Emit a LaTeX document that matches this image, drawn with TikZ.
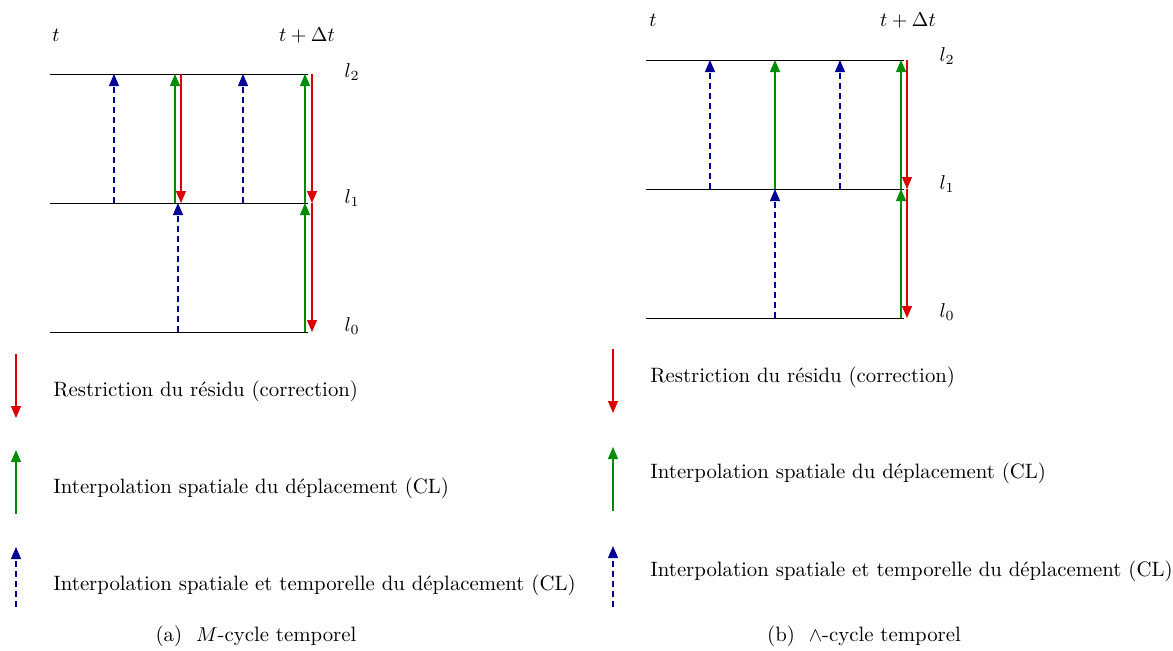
\documentclass[tikz,border=0pt]{standalone}
\usepackage{amsmath,amssymb}
\usetikzlibrary{arrows.meta}
\definecolor{resred}{RGB}{220,0,0}
\definecolor{intgreen}{RGB}{0,140,0}
\definecolor{tmpblue}{RGB}{0,0,150}

\begin{document}
\begin{tikzpicture}[x=0.5pt,y=-0.5pt,font=\fontsize{10.4}{12.5}\selectfont,
  level/.style={draw=black,line width=0.5pt},
  restr/.style={resred,line width=0.55pt,-{Triangle[length=6pt,width=5pt]}},
  spat/.style={intgreen,line width=0.55pt,-{Triangle[length=6pt,width=5pt]}},
  spatemp/.style={tmpblue,line width=0.55pt,dash pattern=on 3pt off 2pt,-{Triangle[length=6pt,width=5pt]}},
  lab/.style={anchor=west,inner sep=0pt}]
  \useasboundingbox (0,0) rectangle (1173,650);

  % (a) M-cycle temporel
  \coordinate (a2) at (50,74);  \coordinate (a2e) at (308,74);
  \coordinate (a1) at (50,203); \coordinate (a1e) at (308,203);
  \coordinate (a0) at (50,332); \coordinate (a0e) at (308,332);
  \draw[level] (a2) -- (a2e);
  \draw[level] (a1) -- (a1e);
  \draw[level] (a0) -- (a0e);
  \node (ta) at (56,35) {$t$};
  \node (tdta) at (307,35) {$t+\Delta t$};
  \node (la2) at (352,72) {$l_2$};
  \node (la1) at (352,198) {$l_1$};
  \node (la0) at (352,326) {$l_0$};
  \draw[spatemp] (114,0 |- a1) -- (114,0 |- a2);
  \draw[spatemp] (243,0 |- a1) -- (243,0 |- a2);
  \draw[spatemp] (178,0 |- a0) -- (178,0 |- a1);
  \draw[spat] (175,0 |- a1) -- (175,0 |- a2);
  \draw[restr] (181,0 |- a2) -- (181,0 |- a1);
  \draw[spat] (305,0 |- a0) -- (305,0 |- a1);
  \draw[spat] (305,0 |- a1) -- (305,0 |- a2);
  \draw[restr] (312,0 |- a2) -- (312,0 |- a1);
  \draw[restr] (312,0 |- a1) -- (312,0 |- a0);
  % legend (a)
  \node[lab] (resa) at (53,391) {Restriction du r\'esidu (correction)};
  \node[lab] (inta) at (53,488) {Interpolation spatiale du d\'eplacement (CL)};
  \node[lab] (tmpa) at (53,585) {Interpolation spatiale et temporelle du d\'eplacement (CL)};
  \draw[restr] (16,354) -- (16,418);
  \draw[spat] (16,514) -- (16,450);
  \draw[spatemp] (16,607) -- (16,547);
  \node (capa) at (256,636) {(a)\ \ $M$-cycle temporel};

  % (b) Lambda-cycle temporel
  \coordinate (b2) at (646,60);  \coordinate (b2e) at (904,60);
  \coordinate (b1) at (646,189); \coordinate (b1e) at (904,189);
  \coordinate (b0) at (646,318); \coordinate (b0e) at (904,318);
  \draw[level] (b2) -- (b2e);
  \draw[level] (b1) -- (b1e);
  \draw[level] (b0) -- (b0e);
  \node (tb) at (653,20) {$t$};
  \node (tdtb) at (908,20) {$t+\Delta t$};
  \node (lb2) at (947,56) {$l_2$};
  \node (lb1) at (947,184) {$l_1$};
  \node (lb0) at (947,312) {$l_0$};
  \draw[spatemp] (710,0 |- b1) -- (710,0 |- b2);
  \draw[spatemp] (840,0 |- b1) -- (840,0 |- b2);
  \draw[spat] (775,0 |- b1) -- (775,0 |- b2);
  \draw[spatemp] (775,0 |- b0) -- (775,0 |- b1);
  \draw[spat] (901,0 |- b0) -- (901,0 |- b1);
  \draw[spat] (901,0 |- b1) -- (901,0 |- b2);
  \draw[restr] (907,0 |- b2) -- (907,0 |- b1);
  \draw[restr] (907,0 |- b1) -- (907,0 |- b0);
  % legend (b)
  \node[lab] (resb) at (650,377) {Restriction du r\'esidu (correction)};
  \node[lab] (intb) at (650,473) {Interpolation spatiale du d\'eplacement (CL)};
  \node[lab] (tmpb) at (650,571) {Interpolation spatiale et temporelle du d\'eplacement (CL)};
  \draw[restr] (613,349) -- (613,413);
  \draw[spat] (613,511) -- (613,447);
  \draw[spatemp] (613,607) -- (613,546);
  \node (capb) at (864,636) {(b)\ \ $\wedge$-cycle temporel};
\end{tikzpicture}
\end{document}
